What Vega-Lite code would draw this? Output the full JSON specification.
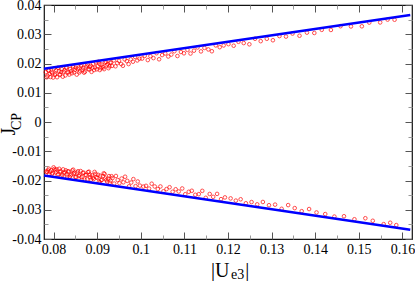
{
  "$schema": "https://vega.github.io/schema/vega-lite/v6.json",
  "width": 368,
  "height": 234,
  "autosize": {"type": "none"},
  "padding": {"left": 44, "top": 5, "right": 3, "bottom": 42},
  "background": "white",
  "config": {
    "font": "Liberation Serif",
    "view": {"stroke": "#111", "strokeWidth": 1.2},
    "axis": {"domain": false, "grid": false, "labelFont": "Liberation Serif", "titleFont": "Liberation Serif", "labelFontSize": 14, "labelColor": "#000", "titleColor": "#000", "titleFontWeight": "normal", "labelFlush": false, "labelOverlap": false, "tickWidth": 1}
  },
  "datasets": {
    "pts": [
      {"u":0.0782,"j":0.01704},{"u":0.0786,"j":0.01583},{"u":0.0789,"j":0.01760},{"u":0.0793,"j":0.01538},{"u":0.0797,"j":0.01677},{"u":0.0801,"j":0.01826},{"u":0.0804,"j":0.01653},{"u":0.0808,"j":0.01531},{"u":0.0812,"j":0.01740},{"u":0.0815,"j":0.01627},{"u":0.0819,"j":0.01805},{"u":0.0823,"j":0.01714},{"u":0.0827,"j":0.01593},{"u":0.0830,"j":0.01870},{"u":0.0834,"j":0.01698},{"u":0.0838,"j":0.01807},{"u":0.0842,"j":0.01666},{"u":0.0845,"j":0.01872},{"u":0.0849,"j":0.01781},{"u":0.0853,"j":0.01620},{"u":0.0857,"j":0.01859},{"u":0.0861,"j":0.01737},{"u":0.0864,"j":0.01954},{"u":0.0868,"j":0.01843},{"u":0.0872,"j":0.01721},{"u":0.0876,"j":0.01920},{"u":0.0880,"j":0.01809},{"u":0.0883,"j":0.01886},{"u":0.0887,"j":0.01714},{"u":0.0891,"j":0.01993},{"u":0.0895,"j":0.01862},{"u":0.0899,"j":0.01801},{"u":0.0903,"j":0.02059},{"u":0.0906,"j":0.01776},{"u":0.0910,"j":0.01965},{"u":0.0914,"j":0.01863},{"u":0.0918,"j":0.02032},{"u":0.0922,"j":0.01941},{"u":0.0926,"j":0.01840},{"u":0.0930,"j":0.02029},{"u":0.0934,"j":0.01917},{"u":0.0938,"j":0.02106},{"u":0.0942,"j":0.01905},{"u":0.0946,"j":0.02014},{"u":0.0950,"j":0.02092},{"u":0.0955,"j":0.01983},{"u":0.0959,"j":0.01922},{"u":0.0963,"j":0.02141},{"u":0.0968,"j":0.02082},{"u":0.0972,"j":0.01980},{"u":0.0977,"j":0.02141},{"u":0.0982,"j":0.02062},{"u":0.0987,"j":0.02223},{"u":0.0992,"j":0.02104},{"u":0.0997,"j":0.02165},
      {"u":0.0784,"j":0.01528},{"u":0.0788,"j":0.01767},{"u":0.0791,"j":0.01644},{"u":0.0795,"j":0.01712},{"u":0.0799,"j":0.01521},{"u":0.0803,"j":0.01610},{"u":0.0806,"j":0.01767},{"u":0.0810,"j":0.01855},{"u":0.0814,"j":0.01614},{"u":0.0817,"j":0.01711},{"u":0.0821,"j":0.01549},{"u":0.0825,"j":0.01768},{"u":0.0829,"j":0.01847},{"u":0.0832,"j":0.01694},{"u":0.0836,"j":0.01622},{"u":0.0840,"j":0.01741},{"u":0.0844,"j":0.01910},{"u":0.0847,"j":0.01696},{"u":0.0851,"j":0.01855},{"u":0.0855,"j":0.01814},{"u":0.0859,"j":0.01693},{"u":0.0863,"j":0.01911},{"u":0.0866,"j":0.01778},{"u":0.0870,"j":0.01687},{"u":0.0874,"j":0.01865},{"u":0.0878,"j":0.01974},{"u":0.0882,"j":0.01793},{"u":0.0885,"j":0.01920},{"u":0.0889,"j":0.01858},{"u":0.0893,"j":0.01777},{"u":0.0897,"j":0.02036},{"u":0.0901,"j":0.01905},{"u":0.0905,"j":0.01993},{"u":0.0908,"j":0.01840},{"u":0.0912,"j":0.01889},{"u":0.0916,"j":0.01807},{"u":0.0920,"j":0.02056},{"u":0.0924,"j":0.01985},{"u":0.0928,"j":0.01904},{"u":0.0932,"j":0.02033},
      {"u":0.1003,"j":0.02168},{"u":0.1009,"j":0.02262},{"u":0.1016,"j":0.02117},{"u":0.1022,"j":0.02250},{"u":0.1029,"j":0.02185},{"u":0.1036,"j":0.02351},{"u":0.1042,"j":0.02144},{"u":0.1049,"j":0.02289},{"u":0.1056,"j":0.02344},{"u":0.1063,"j":0.02240},{"u":0.1070,"j":0.02305},{"u":0.1077,"j":0.02420},{"u":0.1084,"j":0.02256},{"u":0.1092,"j":0.02393},{"u":0.1099,"j":0.02349},{"u":0.1107,"j":0.02466},{"u":0.1114,"j":0.02341},{"u":0.1122,"j":0.02439},{"u":0.1130,"j":0.02547},{"u":0.1138,"j":0.02414},{"u":0.1146,"j":0.02532},{"u":0.1155,"j":0.02481},{"u":0.1163,"j":0.02419},{"u":0.1172,"j":0.02618},{"u":0.1181,"j":0.02558},{"u":0.1190,"j":0.02618},
      {"u":0.1201,"j":0.02662},{"u":0.1213,"j":0.02608},{"u":0.1224,"j":0.02742},{"u":0.1236,"j":0.02699},{"u":0.1249,"j":0.02657},{"u":0.1262,"j":0.02846},{"u":0.1275,"j":0.02764},{"u":0.1289,"j":0.02845},{"u":0.1303,"j":0.02795},{"u":0.1318,"j":0.02938},{"u":0.1333,"j":0.02921},{"u":0.1348,"j":0.03024},{"u":0.1364,"j":0.02949},{"u":0.1381,"j":0.03056},{"u":0.1398,"j":0.03043},
      {"u":0.1415,"j":0.03151},{"u":0.1436,"j":0.03147},{"u":0.1458,"j":0.03275},{"u":0.1482,"j":0.03267},{"u":0.1507,"j":0.03272},{"u":0.1524,"j":0.03399},{"u":0.1549,"j":0.03404},{"u":0.1566,"j":0.03501},{"u":0.1582,"j":0.03496},
      {"u":0.0783,"j":-0.01694},{"u":0.0787,"j":-0.01653},{"u":0.0790,"j":-0.01790},{"u":0.0794,"j":-0.01648},{"u":0.0798,"j":-0.01747},{"u":0.0802,"j":-0.01606},{"u":0.0805,"j":-0.01723},{"u":0.0809,"j":-0.01801},{"u":0.0813,"j":-0.01600},{"u":0.0816,"j":-0.01677},{"u":0.0820,"j":-0.01805},{"u":0.0824,"j":-0.01744},{"u":0.0828,"j":-0.01653},{"u":0.0831,"j":-0.01870},{"u":0.0835,"j":-0.01698},{"u":0.0839,"j":-0.01827},{"u":0.0843,"j":-0.01656},{"u":0.0846,"j":-0.01772},{"u":0.0850,"j":-0.01881},{"u":0.0854,"j":-0.01730},{"u":0.0858,"j":-0.01849},{"u":0.0862,"j":-0.01677},{"u":0.0865,"j":-0.01974},{"u":0.0869,"j":-0.01733},{"u":0.0873,"j":-0.01811},{"u":0.0877,"j":-0.01960},{"u":0.0881,"j":-0.01699},{"u":0.0884,"j":-0.01886},{"u":0.0888,"j":-0.01824},{"u":0.0892,"j":-0.01953},{"u":0.0896,"j":-0.01772},{"u":0.0900,"j":-0.01911},{"u":0.0904,"j":-0.02039},{"u":0.0907,"j":-0.01836},{"u":0.0911,"j":-0.01975},{"u":0.0915,"j":-0.01753},{"u":0.0919,"j":-0.01932},{"u":0.0923,"j":-0.02041},{"u":0.0927,"j":-0.01850},{"u":0.0931,"j":-0.02009},{"u":0.0935,"j":-0.01917},{"u":0.0939,"j":-0.02106},{"u":0.0943,"j":-0.01845},{"u":0.0947,"j":-0.01984},{"u":0.0951,"j":-0.02092},{"u":0.0956,"j":-0.01933},{"u":0.0960,"j":-0.02062},{"u":0.0964,"j":-0.01871},{"u":0.0969,"j":-0.02012},{"u":0.0973,"j":-0.02200},{"u":0.0978,"j":-0.02071},{"u":0.0983,"j":-0.01952},{"u":0.0988,"j":-0.02193},{"u":0.0993,"j":-0.02034},{"u":0.0998,"j":-0.02175},
      {"u":0.0785,"j":-0.01708},{"u":0.0789,"j":-0.01597},{"u":0.0792,"j":-0.01694},{"u":0.0796,"j":-0.01782},{"u":0.0800,"j":-0.01551},{"u":0.0804,"j":-0.01650},{"u":0.0807,"j":-0.01617},{"u":0.0811,"j":-0.01785},{"u":0.0815,"j":-0.01714},{"u":0.0818,"j":-0.01861},{"u":0.0822,"j":-0.01619},{"u":0.0826,"j":-0.01718},{"u":0.0830,"j":-0.01797},{"u":0.0833,"j":-0.01684},{"u":0.0837,"j":-0.01882},{"u":0.0841,"j":-0.01791},{"u":0.0845,"j":-0.01630},{"u":0.0848,"j":-0.01736},{"u":0.0852,"j":-0.01885},{"u":0.0856,"j":-0.01684},{"u":0.0860,"j":-0.01823},{"u":0.0864,"j":-0.01881},{"u":0.0867,"j":-0.01738},{"u":0.0871,"j":-0.01967},{"u":0.0875,"j":-0.01815},{"u":0.0879,"j":-0.01714},{"u":0.0883,"j":-0.01803},{"u":0.0886,"j":-0.01970},{"u":0.0890,"j":-0.01908},{"u":0.0894,"j":-0.01707},{"u":0.0898,"j":-0.01886},{"u":0.0902,"j":-0.01805},{"u":0.0906,"j":-0.02063},{"u":0.0909,"j":-0.01990},{"u":0.0913,"j":-0.01849},{"u":0.0917,"j":-0.01777},{"u":0.0921,"j":-0.01986},{"u":0.0925,"j":-0.01935},{"u":0.0929,"j":-0.02074},{"u":0.0933,"j":-0.01853},
      {"u":0.1006,"j":-0.02208},{"u":0.1012,"j":-0.02182},{"u":0.1019,"j":-0.02277},{"u":0.1025,"j":-0.02110},{"u":0.1032,"j":-0.02205},{"u":0.1039,"j":-0.02291},{"u":0.1045,"j":-0.02204},{"u":0.1052,"j":-0.02369},{"u":0.1059,"j":-0.02294},{"u":0.1066,"j":-0.02230},{"u":0.1073,"j":-0.02385},{"u":0.1080,"j":-0.02300},{"u":0.1087,"j":-0.02376},{"u":0.1095,"j":-0.02273},{"u":0.1102,"j":-0.02469},{"u":0.1110,"j":-0.02386},{"u":0.1117,"j":-0.02351},{"u":0.1125,"j":-0.02489},{"u":0.1133,"j":-0.02467},{"u":0.1141,"j":-0.02354},{"u":0.1149,"j":-0.02592},{"u":0.1158,"j":-0.02461},{"u":0.1166,"j":-0.02559},{"u":0.1175,"j":-0.02458},{"u":0.1184,"j":-0.02638},{"u":0.1193,"j":-0.02578},
      {"u":0.1206,"j":-0.02612},{"u":0.1218,"j":-0.02688},{"u":0.1229,"j":-0.02642},{"u":0.1241,"j":-0.02779},{"u":0.1254,"j":-0.02737},{"u":0.1267,"j":-0.02816},{"u":0.1280,"j":-0.02734},{"u":0.1294,"j":-0.02845},{"u":0.1308,"j":-0.02825},{"u":0.1323,"j":-0.02968},{"u":0.1338,"j":-0.02841},{"u":0.1353,"j":-0.02944},{"u":0.1369,"j":-0.03049},{"u":0.1386,"j":-0.02976},{"u":0.1403,"j":-0.03093},
      {"u":0.1423,"j":-0.03148},{"u":0.1444,"j":-0.03234},{"u":0.1466,"j":-0.03222},{"u":0.1490,"j":-0.03325},{"u":0.1515,"j":-0.03290},{"u":0.1532,"j":-0.03377},{"u":0.1557,"j":-0.03492},{"u":0.1572,"j":-0.03444},{"u":0.1586,"j":-0.03525}
    ],
    "lines": [
      {"u":0.0778,"j":0.0182,"s":"up"},{"u":0.1618,"j":0.0366,"s":"up"},
      {"u":0.0778,"j":-0.0183,"s":"low"},{"u":0.1618,"j":-0.0368,"s":"low"}
    ]
  },
  "resolve": {"axis": {"x": "independent", "y": "independent"}},
  "layer": [
    {
      "data": {"name": "pts"},
      "mark": {"type": "point", "shape": "circle", "filled": false, "color": "#ff0000", "size": 13, "strokeWidth": 1},
      "encoding": {
        "x": {"field": "u", "type": "quantitative", "scale": {"domain": [0.0778, 0.1622], "nice": false, "zero": false},
          "axis": {"orient": "bottom", "values": [0.08,0.09,0.1,0.11,0.12,0.13,0.14,0.15,0.16], "ticks": false, "tickSize": 0, "labelPadding": 3,
            "labelFont": "Liberation Serif", "titleFont": "Liberation Serif",
            "labelExpr": "datum.value < 0 ? '-' + format(-datum.value, '~g') : format(datum.value, '~g')",
            "title": "|U", "titleFontSize": 20, "titleAlign": "left", "titleBaseline": "alphabetic", "titleX": 166.5, "titleY": 37}},
        "y": {"field": "j", "type": "quantitative", "scale": {"domain": [-0.04, 0.04], "nice": false, "zero": false},
          "axis": {"orient": "left", "values": [-0.04,-0.03,-0.02,-0.01,0,0.01,0.02,0.03,0.04], "ticks": false, "tickSize": 0, "labelPadding": 3,
            "labelFont": "Liberation Serif", "titleFont": "Liberation Serif",
            "labelExpr": "datum.value < 0 ? '-' + format(-datum.value, '~g') : format(datum.value, '~g')",
            "title": "J", "titleFontSize": 20, "titleAngle": -90, "titleAlign": "center", "titleBaseline": "middle", "titleX": -36, "titleY": 126}}
      }
    },
    {
      "data": {"name": "lines"},
      "mark": {"type": "line", "color": "#0000ff", "strokeWidth": 2.5},
      "encoding": {
        "x": {"field": "u", "type": "quantitative", "scale": {"domain": [0.0778, 0.1622], "nice": false, "zero": false},
          "axis": {"orient": "bottom", "values": [0.08,0.09,0.1,0.11,0.12,0.13,0.14,0.15,0.16], "labels": false, "tickSize": -7, "tickColor": "#555", "title": null}},
        "y": {"field": "j", "type": "quantitative", "scale": {"domain": [-0.04, 0.04], "nice": false, "zero": false},
          "axis": {"orient": "left", "values": [-0.04,-0.03,-0.02,-0.01,0,0.01,0.02,0.03,0.04], "labels": false, "tickSize": -7, "tickColor": "#555", "title": null}},
        "detail": {"field": "s", "type": "nominal"}
      }
    },
    {
      "data": {"name": "lines"},
      "mark": {"type": "point", "opacity": 0},
      "encoding": {
        "x": {"field": "u", "type": "quantitative", "scale": {"domain": [0.0778, 0.1622], "nice": false, "zero": false},
          "axis": {"orient": "bottom", "values": [0.085,0.095,0.105,0.115,0.125,0.135,0.145,0.155], "labels": false, "tickSize": -4, "tickColor": "#999",
            "title": "e3", "titleFontSize": 14, "titleAlign": "left", "titleBaseline": "alphabetic", "titleX": 186.5, "titleY": 39}},
        "y": {"field": "j", "type": "quantitative", "scale": {"domain": [-0.04, 0.04], "nice": false, "zero": false},
          "axis": {"orient": "left", "values": [-0.035,-0.025,-0.015,-0.005,0.005,0.015,0.025,0.035], "labels": false, "tickSize": -4, "tickColor": "#999",
            "title": "CP", "titleFontSize": 14, "titleAngle": -90, "titleAlign": "center", "titleBaseline": "middle", "titleX": -28, "titleY": 116}}
      }
    },
    {
      "data": {"name": "lines"},
      "mark": {"type": "point", "opacity": 0},
      "encoding": {
        "x": {"field": "u", "type": "quantitative", "scale": {"domain": [0.0778, 0.1622], "nice": false, "zero": false},
          "axis": {"orient": "top", "values": [0.08,0.09,0.1,0.11,0.12,0.13,0.14,0.15,0.16], "labels": false, "tickSize": -7, "tickColor": "#555", "title": null}},
        "y": {"field": "j", "type": "quantitative", "scale": {"domain": [-0.04, 0.04], "nice": false, "zero": false},
          "axis": {"orient": "right", "values": [-0.04,-0.03,-0.02,-0.01,0,0.01,0.02,0.03,0.04], "labels": false, "tickSize": -7, "tickColor": "#555", "title": null}}
      }
    },
    {
      "data": {"name": "lines"},
      "mark": {"type": "point", "opacity": 0},
      "encoding": {
        "x": {"field": "u", "type": "quantitative", "scale": {"domain": [0.0778, 0.1622], "nice": false, "zero": false},
          "axis": {"orient": "top", "values": [0.085,0.095,0.105,0.115,0.125,0.135,0.145,0.155], "labels": false, "tickSize": -4, "tickColor": "#999", "title": null}},
        "y": {"field": "j", "type": "quantitative", "scale": {"domain": [-0.04, 0.04], "nice": false, "zero": false},
          "axis": {"orient": "right", "values": [-0.035,-0.025,-0.015,-0.005,0.005,0.015,0.025,0.035], "labels": false, "tickSize": -4, "tickColor": "#999", "title": null}}
      }
    },
    {
      "data": {"name": "lines"},
      "mark": {"type": "point", "opacity": 0},
      "encoding": {
        "x": {"field": "u", "type": "quantitative", "scale": {"domain": [0.0778, 0.1622], "nice": false, "zero": false},
          "axis": {"orient": "bottom", "values": [0.08], "labels": false, "ticks": false, "tickSize": 0,
            "title": "|", "titleFontSize": 20, "titleAlign": "center", "titleBaseline": "alphabetic", "titleX": 202.7, "titleY": 37}},
        "y": {"field": "j", "type": "quantitative", "scale": {"domain": [-0.04, 0.04], "nice": false, "zero": false}, "axis": null}
      }
    }
  ]
}
